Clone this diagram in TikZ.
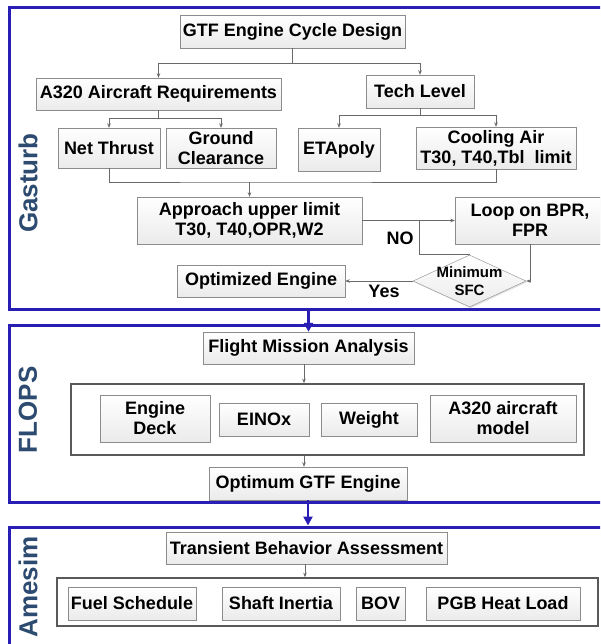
\documentclass[tikz,border=0pt]{standalone}
\usepackage{fontspec}
\setmainfont{Liberation Sans}
\usetikzlibrary{shapes.geometric,arrows.meta,shadows}
\definecolor{frameblue}{RGB}{40,30,180}
\definecolor{labelblue}{RGB}{45,75,112}
\definecolor{boxline}{RGB}{140,140,140}
\definecolor{connline}{RGB}{105,105,105}

\begin{document}
\begin{tikzpicture}[x=1pt, y=-1pt,
    box/.style={draw=boxline, top color=white, bottom color=gray!16, align=center,
        inner sep=0pt, font=\bfseries\fontsize{18}{20}\selectfont,
        drop shadow={shadow xshift=1.2pt, shadow yshift=-1.2pt, fill=gray!40, opacity=0.6}},
    frame/.style={draw=frameblue, line width=3pt, fill=white, inner sep=0pt},
    panel/.style={draw=black!65, line width=1.6pt, fill=white, inner sep=0pt},
    seclabel/.style={rotate=90, text=labelblue, font=\bfseries\fontsize{26}{28}\selectfont},
    conn/.style={draw=connline, line width=0.8pt, -{Stealth[length=4.5pt,width=3.5pt]}},
    link/.style={draw=connline, line width=0.8pt},
    flow/.style={draw=frameblue, line width=2.5pt, -{Triangle[length=9pt,width=9pt]}}]
    \useasboundingbox (0,0) rectangle (600,644);
    \clip (0,0) rectangle (600,644);
    \fill[white] (0,0) rectangle (600,644);

    \node[frame, minimum width=596, minimum height=301] (gasframe) at (307,158.5) {};
    \node[frame, minimum width=596, minimum height=177] (flopsframe) at (307,413.5) {};
    \node[frame, minimum width=596, minimum height=153] (amesframe) at (307,603.5) {};
    \node[seclabel] (gaslabel) at (28,183) {Gasturb};
    \node[seclabel] (flopslabel) at (28,410) {FLOPS};
    \node[seclabel] (ameslabel) at (28,587) {Amesim};

    \node[box, minimum width=225, minimum height=33] (gtf) at (292.5,31.5) {GTF Engine Cycle Design};
    \node[box, minimum width=245, minimum height=32] (req) at (158.5,94) {A320 Aircraft Requirements};
    \node[box, minimum width=108, minimum height=33] (tech) at (420,91.5) {Tech Level};
    \node[box, minimum width=102, minimum height=40] (thrust) at (109,148) {Net Thrust};
    \node[box, minimum width=110, minimum height=40] (ground) at (221,148) {Ground\\Clearance};
    \node[box, minimum width=82, minimum height=43] (eta) at (339,149.5) {ETApoly};
    \node[box, minimum width=160, minimum height=42] (cool) at (496,148) {Cooling Air\\T30, T40,Tbl~ limit};
    \node[box, minimum width=225, minimum height=47] (appr) at (249.5,220.5) {Approach upper limit\\T30, T40,OPR,W2};
    \node[box, minimum width=150, minimum height=47] (loop) at (530,220.5) {Loop on BPR,\\FPR};
    \node[box, diamond, minimum width=113, minimum height=52] (sfc) at (469.5,281) {};
    \node[align=center, font=\bfseries\fontsize{15}{18}\selectfont] (sfctext) at (sfc) {Minimum\\SFC};
    \node[box, minimum width=168, minimum height=32] (opt) at (261,281) {Optimized Engine};
    \node[font=\bfseries\fontsize{18}{20}\selectfont] (no) at (400,238) {NO};
    \node[font=\bfseries\fontsize{18}{20}\selectfont] (yes) at (384,291) {Yes};

    \coordinate (s1) at (292.5,63);
    \coordinate (s2) at (158.5,118);
    \coordinate (s3) at (420,115);
    \coordinate (j) at (249.5,182);
    \coordinate (n1) at (419,220.5);
    \draw[link] (gtf.south) -- (s1);
    \foreach \t in {req,tech} {\draw[conn] (s1) -| (\t.north);}
    \draw[link] (req.south) -- (s2);
    \foreach \t in {thrust,ground} {\draw[conn] (s2) -| (\t.north);}
    \draw[link] (tech.south) -- (s3);
    \foreach \t in {eta,cool} {\draw[conn] (s3) -| (\t.north);}
    \draw[link] (thrust.south) |- (j) -| (cool.south);
    \draw[conn] (j) -- (appr.north);
    \draw[conn] (appr.east) -- (loop.west);
    \draw[link] (sfc.north) -| (n1);
    \draw[conn] (loop.south) |- (sfc.east);
    \draw[conn] (sfc.west) -- (opt.east);

    \node[box, minimum width=211, minimum height=32] (flight) at (308.5,348) {Flight Mission Analysis};
    \node[panel, minimum width=513, minimum height=71] (flopsbox) at (327.5,419.5) {};
    \node[box, minimum width=110, minimum height=47] (deck) at (155,418.5) {Engine\\Deck};
    \node[box, minimum width=90, minimum height=33] (einox) at (264,419.5) {EINOx};
    \node[box, minimum width=96, minimum height=33] (weight) at (369,419.5) {Weight};
    \node[box, minimum width=146, minimum height=47] (model) at (503,418.5) {A320 aircraft\\model};
    \node[box, minimum width=198, minimum height=33] (optimum) at (308,483.5) {Optimum GTF Engine};
    \draw[conn] (flight.south -| 304,0) -- (flopsbox.north -| 304,0);
    \draw[conn] (flopsbox.south -| 304,0) -- (optimum.north -| 304,0);

    \node[box, minimum width=281, minimum height=32] (trans) at (306.5,548) {Transient Behavior Assessment};
    \node[panel, minimum width=541, minimum height=48] (amesbox) at (327.5,602) {};
    \node[box, minimum width=128, minimum height=33] (fuel) at (132,603.5) {Fuel Schedule};
    \node[box, minimum width=118, minimum height=33] (shaft) at (281,603.5) {Shaft Inertia};
    \node[box, minimum width=49, minimum height=33] (bov) at (380.5,603.5) {BOV};
    \node[box, minimum width=154, minimum height=33] (pgb) at (503,603.5) {PGB Heat Load};
    \draw[conn] (trans.south -| 305,0) -- (amesbox.north -| 305,0);

    \draw[flow] (flight.north |- gasframe.south) -- (flight.north);
    \draw[flow] (optimum.south) -- (optimum.south |- amesframe.north);
\end{tikzpicture}
\end{document}
